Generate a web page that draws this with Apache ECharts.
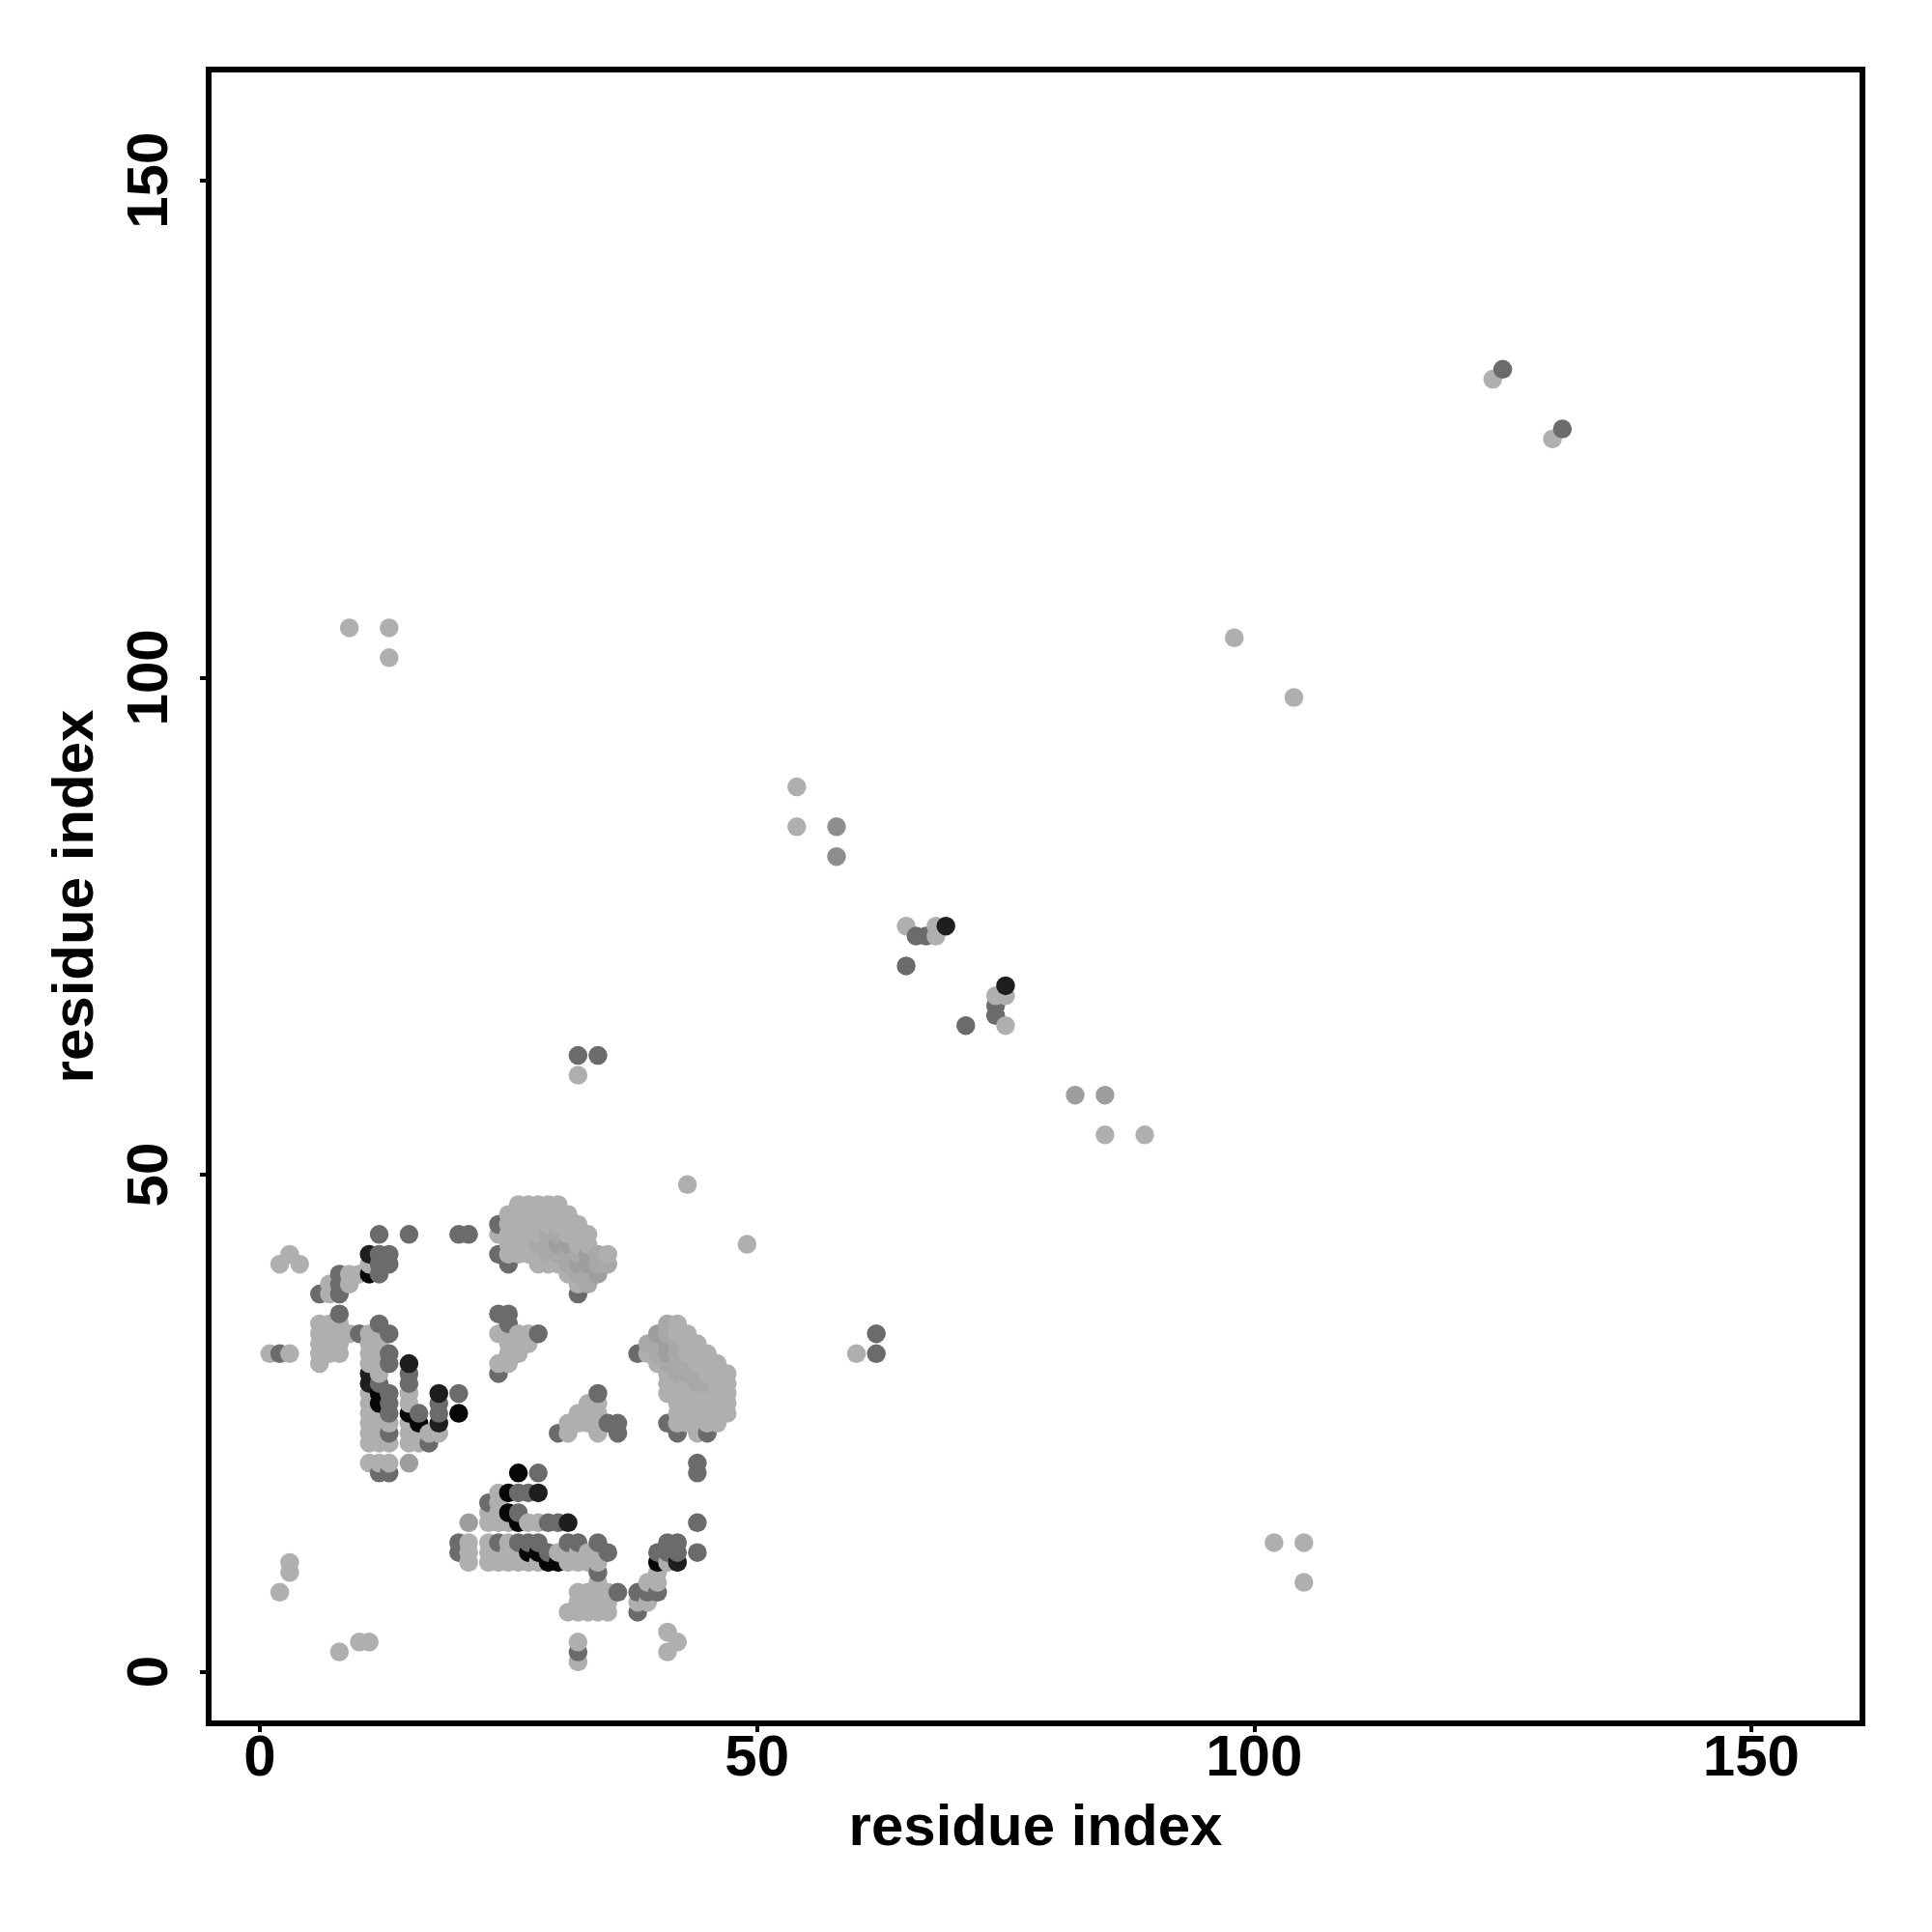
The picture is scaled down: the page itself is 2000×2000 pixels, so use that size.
<!DOCTYPE html>
<html>
<head>
<meta charset="utf-8">
<style>html,body{margin:0;padding:0;background:#fff}#c{width:2000px;height:2000px}</style>
<script src="https://cdn.jsdelivr.net/npm/echarts@6/dist/echarts.min.js"></script>
</head>
<body>
<div id="c"></div>
<script>
var tickValues = [0, 50, 100, 150];
var axisTitle = "residue index";

var lightGrey = [
[1,32],[2,8],[2,41],[3,10],[3,11],[3,32],[3,42],[4,41],[8,2],[9,105],[10,3],[11,3],[13,102],[13,105],
[6,31],[6,33],[6,34],[6,35],[6,32],[7,32],[7,33],[7,34],[7,35],[8,32],[8,33],[8,34],[8,35],[9,34],
[7,38],[7,39],[9,39],[9,40],[10,40],[11,41],
[11,21],[11,23],[11,24],[11,25],[11,26],[11,27],[11,28],[11,31],[11,32],[11,33],[11,34],
[12,21],[12,23],[12,24],[12,25],[12,26],[12,30],[12,31],[12,32],[12,33],[12,34],
[13,21],[13,23],[13,25],
[15,23],[15,24],[15,25],[15,27],[15,28],[16,23],[16,24],[17,24],[18,24],
[21,11],[21,12],[21,13],[23,11],[23,12],[23,13],[23,15],[23,16],
[24,11],[24,12],[24,15],[24,16],[24,17],[24,18],[25,11],[25,12],[25,13],[25,15],
[26,11],[26,12],[27,11],[27,15],[28,11],[28,15],[30,12],
[31,6],[31,11],[31,12],[32,6],[32,7],[32,8],[32,11],[32,12],[33,6],[33,7],[33,8],[33,11],[33,12],
[34,6],[34,7],[34,8],[34,9],[34,11],[34,12],[35,6],[35,7],[35,8],
[38,7],[39,7],[39,9],[40,9],[40,10],[41,11],
[24,31],[24,34],[25,31],[25,32],[25,33],[25,34],[26,32],[26,33],[26,34],[27,33],[27,34],
[31,24],[31,25],[32,25],[32,26],[33,25],[33,26],[33,27],[34,24],[34,25],[34,26],[34,27],
[24,44],[25,42],[25,43],[25,44],[25,45],[25,46],[26,42],[26,43],[26,44],[26,45],[26,46],[26,47],
[27,42],[27,43],[27,44],[27,45],[27,46],[27,47],[28,41],[28,42],[28,44],[28,45],[28,46],[28,47],
[29,41],[29,45],[29,46],[29,47],[30,41],[30,45],[30,46],[30,47],[31,40],[31,44],[31,45],[31,46],
[32,39],[32,43],[32,44],[32,45],[33,43],[33,44],[35,42],
[32,60],[32,1],[32,3],[41,2],[41,4],[42,3],[43,49],[49,43],[54,85],[54,89],[60,32],
[65,75],[68,74],[68,75],[74,68],[75,65],[75,68],[85,54],[89,54],[98,104],[102,13],[104,98],[105,9],[105,13],[124,130],[130,124],
[39,32],[40,31],[41,28],[41,29],[41,30],[42,26],[42,27],[42,28],[42,29],[42,25],[42,34],[42,35],
[43,25],[43,26],[43,27],[43,28],[43,29],[43,32],[43,33],[43,34],[44,24],[44,25],[44,26],[44,27],[44,28],[44,31],[44,32],[44,33],
[45,25],[45,26],[45,27],[45,28],[45,30],[45,31],[45,32],[46,25],[46,26],[46,27],[46,28],[46,29],[46,30],[46,31],
[47,26],[47,27],[47,28],[47,29],[47,30]
];
var midGrey = [
[28,43],[29,42],[29,43],[29,44],[30,42],[30,44],[31,41],[31,42],[32,40],[32,42],[33,39],[33,40],[34,41],[34,42],[35,41],
[39,33],[40,32],[40,33],[41,31],[41,34],[41,35],[42,30],[42,31],[42,32],[42,33],[43,30],[43,31],[44,29],[44,30],[45,29]
];
var deepGrey = [
[15,21],[21,15],[30,43],[31,43],[32,41],[33,41],[33,42],[34,40],[40,34],[41,32],[41,33],[82,58],[85,58]
];
var fadedGrey = [
[58,82],[58,85]
];
var darkGrey = [
[2,32],[6,38],[8,36],[8,38],[8,39],[8,40],[10,34],[12,20],[12,29],[12,35],[12,40],[12,41],[12,42],[12,44],
[13,20],[13,24],[13,26],[13,27],[13,28],[13,31],[13,32],[13,34],[13,41],[13,42],
[15,29],[15,30],[15,44],[16,26],[17,23],[18,26],[18,27],[20,12],[20,13],[20,28],[20,44],[21,44],
[23,17],[24,13],[24,30],[24,36],[24,42],[24,45],[25,35],[25,36],[25,41],[26,13],[26,16],[26,18],[27,13],[27,18],[28,13],[28,20],[28,34],
[29,12],[29,15],[30,15],[30,24],[31,13],[32,2],[32,13],[32,38],[32,62],[34,10],[34,13],[34,28],[34,62],[35,12],[35,25],[36,8],[36,24],[36,25],
[38,6],[38,8],[38,32],[39,8],[40,8],[40,12],[41,12],[41,13],[41,25],[42,12],[42,13],[42,24],[44,12],[44,15],[44,20],[44,21],[45,24],
[62,32],[62,34],[65,71],[66,74],[67,74],[71,65],[74,66],[74,67],[125,131],[131,125]
];
var nearBlack = [
[11,29],[11,30],[11,42],[15,31],[18,25],[18,28],[28,18],[31,15],[42,11],[69,75],[75,69]
];
var pureBlack = [
[11,40],[12,27],[12,28],[15,26],[16,25],[20,26],[25,16],[25,18],[26,15],[26,20],[27,12],[28,12],[29,11],[30,11],[40,11]
];

// Points are painted in order of x, then y, so later residues cover earlier ones.
var shades = [[lightGrey,"#afafaf"],[midGrey,"#a8a8a8"],[deepGrey,"#9e9e9e"],[fadedGrey,"#8e8e8e"],[darkGrey,"#6b6b6b"],[nearBlack,"#1e1e1e"],[pureBlack,"#060606"]];
var table = [];
shades.forEach(function (s) {
  s[0].forEach(function (p) { table.push({ value: p, itemStyle: { color: s[1] } }); });
});
table.sort(function (a, b) { return a.value[0] - b.value[0] || a.value[1] - b.value[1]; });

var font = "'Liberation Sans', Arial, Helvetica, sans-serif";
function axis(extra) {
  var base = {
    type: "value",
    name: axisTitle,
    nameLocation: "middle",
    nameTextStyle: { fontFamily: font, fontWeight: "bold", fontSize: 60, color: "#000" },
    splitLine: { show: false },
    axisLine: { show: false, onZero: false },
    axisTick: { show: true, length: 9, lineStyle: { color: "#000", width: 4 }, customValues: tickValues },
    axisLabel: { show: true, customValues: tickValues, hideOverlap: false, showMinLabel: true, showMaxLabel: true,
      fontFamily: font, fontWeight: "bold", fontSize: 60, color: "#000" }
  };
  for (var k in extra) {
    if (k === "axisLabel") { for (var j in extra[k]) base.axisLabel[j] = extra[k][j]; }
    else base[k] = extra[k];
  }
  return base;
}
var chart = echarts.init(document.getElementById("c"), null, { renderer: "canvas", width: 2000, height: 2000 });
chart.setOption({
  animation: false,
  backgroundColor: "#fff",
  grid: { show: true, left: 216, top: 72, width: 1712, height: 1712, borderColor: "#000", borderWidth: 6, backgroundColor: "transparent", containLabel: false },
  xAxis: axis({ min: -5.149, max: 161.18, nameGap: 79, axisLabel: { margin: 7 } }),
  yAxis: axis({ min: -5.18, max: 161.15, nameGap: 107, nameRotate: 90, axisLabel: { rotate: 90, margin: 30 } }),
  series: [{
    type: "scatter",
    data: table,
    symbol: "circle",
    symbolSize: 19.5,
    itemStyle: { opacity: 1 },
    large: false,
    progressive: 0,
    clip: false
  }]
});
</script>
</body>
</html>
